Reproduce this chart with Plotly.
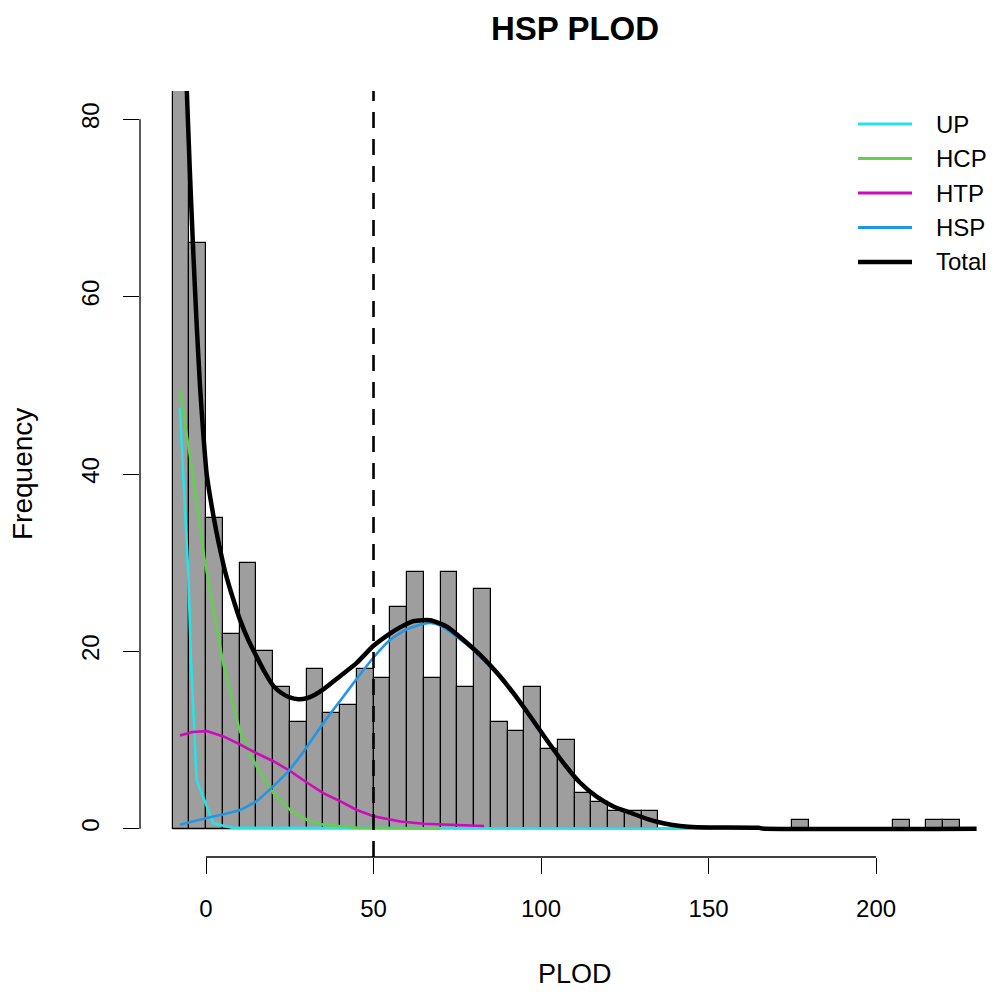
import plotly.graph_objects as go

# ---------------- data ----------------
bin_left = list(range(-10, 225, 5))
counts = [95, 66, 35, 22, 30, 20, 16, 12, 18, 13, 14, 18, 17, 25, 29, 17, 29, 16, 27,
          12, 11, 16, 9, 10, 4, 3, 2, 2, 2,
          0, 0, 0, 0, 0, 0, 0, 0,
          1, 0, 0, 0, 0, 0, 1, 0, 1, 1]

up_x = [-7.8, -6.8, -5.3, -4.5, -3.8, -2.8, 2.2, 7.7, 144.5]
up_y = [47.4, 39.4, 28.9, 19.1, 13.1, 5.5, 0.6, 0.1, 0.0]

hcp_x = [-7.8, -4.8, -0.3, 5.2, 10.1, 15.1, 20.1, 25.1, 30.1, 35.0, 45.0, 60.0, 70.0]
hcp_y = [49.5, 42.0, 30.0, 18.5, 11.0, 7.0, 4.0, 2.1, 1.0, 0.45, 0.1, 0.02, 0.0]

htp_x = [-7.8, -4.0, 0.2, 5.2, 10.1, 15.1, 20.1, 25.1, 30.1, 35.0, 40.0, 45.0, 50.0,
         58.0, 65.0, 75.0, 83.0]
htp_y = [10.5, 10.9, 11.0, 10.4, 9.5, 8.5, 7.6, 6.5, 5.2, 4.0, 3.1, 2.1, 1.4,
         0.8, 0.55, 0.4, 0.3]

hsp_x = [-7.8, 0.2, 5.0, 10.1, 15.1, 20.1, 25.1, 30.1, 35.0, 40.0, 45.0, 50.0, 55.0,
         60.0, 65.0, 67.0, 70.0, 75.0, 80.0, 85.0, 90.0, 95.0, 100.0, 105.0, 110.0,
         115.0, 120.0, 125.0, 130.0, 135.0, 140.0, 145.0, 150.0]
hsp_y = [0.45, 1.2, 1.6, 2.1, 3.1, 4.8, 6.7, 9.2, 11.9, 14.4, 16.9, 19.3, 21.3,
         22.5, 23.1, 23.2, 22.9, 21.6, 20.1, 18.2, 16.0, 13.5, 10.8, 8.3, 5.9,
         4.1, 2.8, 2.0, 1.25, 0.75, 0.4, 0.2, 0.1]

total_x = [-7.8, -6.8, -5.8, -4.8, -3.8, -2.8, -1.8, -0.8, 0.2, 1.2, 2.2, 3.2, 4.2, 5.7,
           7.2, 8.7, 10.1, 12.6, 15.1, 17.6, 20.1, 22.5, 25.0, 27.6, 30.0, 32.5, 35.0,
           40.0, 45.0, 49.9, 54.9, 57.9, 61.9,
           66.9, 71.8, 76.8, 81.8, 86.8, 91.7, 96.7, 101.7, 106.7, 111.6, 116.6,
           121.6, 126.6, 131.6, 136.5, 141.5, 146.5, 165.0, 166.0, 230.0]
total_y = [108.0, 95.0, 84.0, 74.0, 65.0, 57.0, 50.0, 44.5, 40.0, 37.5, 35.3, 33.3, 31.5, 29.0,
           27.0, 25.2, 23.6, 21.3, 19.4, 17.6, 16.1, 15.3, 14.8, 14.6, 14.7, 15.1, 15.7,
           17.2, 18.7, 20.6, 22.0, 22.7, 23.4,
           23.5, 22.8, 21.3, 19.6, 17.6, 15.3, 12.7, 10.0, 7.4, 5.2, 3.6,
           2.5, 1.8, 1.1, 0.6, 0.3, 0.15, 0.1, 0.02, 0.0]

threshold = 50
x_ticks = [0, 50, 100, 150, 200]
y_ticks = [0, 20, 40, 60, 80]
legend_names = ["UP", "HCP", "HTP", "HSP", "Total"]
legend_colors = ["#28E2E5", "#61D04F", "#CD0BBC", "#2297E6", "black"]

# ---------------- layout geometry ----------------
# page pixel positions (the page body adds an 8px offset to the figure)
OFF = 8
W, H = 998 - OFF, 992 - OFF
PL, PR, PT, PB = 140, 990, 91, 857          # plot-region edges in page pixels
L, R, T, B = PL - OFF, W - (PR - OFF), PT - OFF, H - (PB - OFF)
PW, PH = W - L - R, H - T - B
XR = [-19.7, 234.0]
YR = [-3.2, 83.2]


def px2paper_x(px):
    return (px - OFF - L) / PW


def py2paper_y(py):
    return (H - B - (py - OFF)) / PH


FONT = "Liberation Sans, Arial, sans-serif"

fig = go.Figure()

centers = [b + 2.5 for b in bin_left]
fig.add_trace(go.Bar(x=centers, y=counts, width=5,
                     marker=dict(color="#9E9E9E", line=dict(color="black", width=1.2)),
                     showlegend=False, hoverinfo="skip"))

fig.add_trace(go.Scatter(x=[bin_left[0], bin_left[-1] + 5], y=[0, 0], mode="lines",
                         line=dict(color="black", width=1.2), showlegend=False,
                         hoverinfo="skip"))

comp_w = 2.6
fig.add_trace(go.Scatter(x=up_x, y=up_y, mode="lines", line=dict(color=legend_colors[0], width=comp_w), showlegend=False))
fig.add_trace(go.Scatter(x=hcp_x, y=hcp_y, mode="lines", line=dict(color=legend_colors[1], width=comp_w), showlegend=False))
fig.add_trace(go.Scatter(x=htp_x, y=htp_y, mode="lines", line=dict(color=legend_colors[2], width=comp_w), showlegend=False))
fig.add_trace(go.Scatter(x=hsp_x, y=hsp_y, mode="lines", line=dict(color=legend_colors[3], width=comp_w, shape="spline", smoothing=0.5), showlegend=False))
fig.add_trace(go.Scatter(x=total_x, y=total_y, mode="lines", line=dict(color="black", width=4.5, shape="spline", smoothing=0.6), showlegend=False))

shapes = []
shapes.append(dict(type="line", xref="x", yref="paper", x0=threshold, x1=threshold, y0=0, y1=1,
                   line=dict(color="black", width=2.6, dash="16px,11px")))
shapes.append(dict(type="line", xref="paper", yref="y", x0=0, x1=0, y0=y_ticks[0], y1=y_ticks[-1],
                   line=dict(color="black", width=1.3)))
shapes.append(dict(type="line", xref="x", yref="paper", x0=x_ticks[0], x1=x_ticks[-1], y0=0, y1=0,
                   line=dict(color="black", width=1.3)))

annotations = []
leg_y0, leg_dy = 124, 34.5
for i, (nm, col) in enumerate(zip(legend_names, legend_colors)):
    py = leg_y0 + i * leg_dy
    shapes.append(dict(type="line", xref="paper", yref="paper",
                       x0=px2paper_x(858), x1=px2paper_x(912),
                       y0=py2paper_y(py), y1=py2paper_y(py),
                       line=dict(color=col, width=4.5 if nm == "Total" else 2.8)))
    annotations.append(dict(xref="paper", yref="paper", x=px2paper_x(934), y=py2paper_y(py),
                            text=nm, showarrow=False, xanchor="left", yanchor="middle",
                            font=dict(family=FONT, size=24, color="black")))

annotations.append(dict(xref="paper", yref="paper", x=px2paper_x(575), y=py2paper_y(28),
                        text="<b>HSP PLOD</b>", showarrow=False, xanchor="center", yanchor="middle",
                        borderpad=0, font=dict(family=FONT, size=33, color="black")))
annotations.append(dict(xref="paper", yref="paper", x=px2paper_x(575), y=py2paper_y(974),
                        text="PLOD", showarrow=False, xanchor="center", yanchor="middle",
                        font=dict(family=FONT, size=27, color="black")))
annotations.append(dict(xref="paper", yref="paper", x=px2paper_x(22), y=py2paper_y(474),
                        text="Frequency", showarrow=False, xanchor="center", yanchor="middle",
                        textangle=-90, font=dict(family=FONT, size=28, color="black")))

fig.update_layout(
    width=W, height=H,
    margin=dict(l=L, r=R, t=T, b=B),
    paper_bgcolor="white", plot_bgcolor="white",
    bargap=0, showlegend=False,
    shapes=shapes, annotations=annotations,
    xaxis=dict(range=XR, showgrid=False, zeroline=False, showline=False,
               tickmode="array", tickvals=x_ticks, ticktext=[str(v) for v in x_ticks],
               ticks="outside", ticklen=16, tickwidth=1.3, tickcolor="black",
               ticklabelstandoff=14,
               tickfont=dict(family=FONT, size=24, color="black")),
    yaxis=dict(range=YR, showgrid=False, zeroline=False, showline=False,
               tickmode="array", tickvals=y_ticks, ticktext=[str(v) for v in y_ticks],
               ticks="outside", ticklen=16, tickwidth=1.3, tickcolor="black",
               tickangle=-90, ticklabelstandoff=14,
               tickfont=dict(family=FONT, size=24, color="black")),
)

fig.write_html("out.html")
